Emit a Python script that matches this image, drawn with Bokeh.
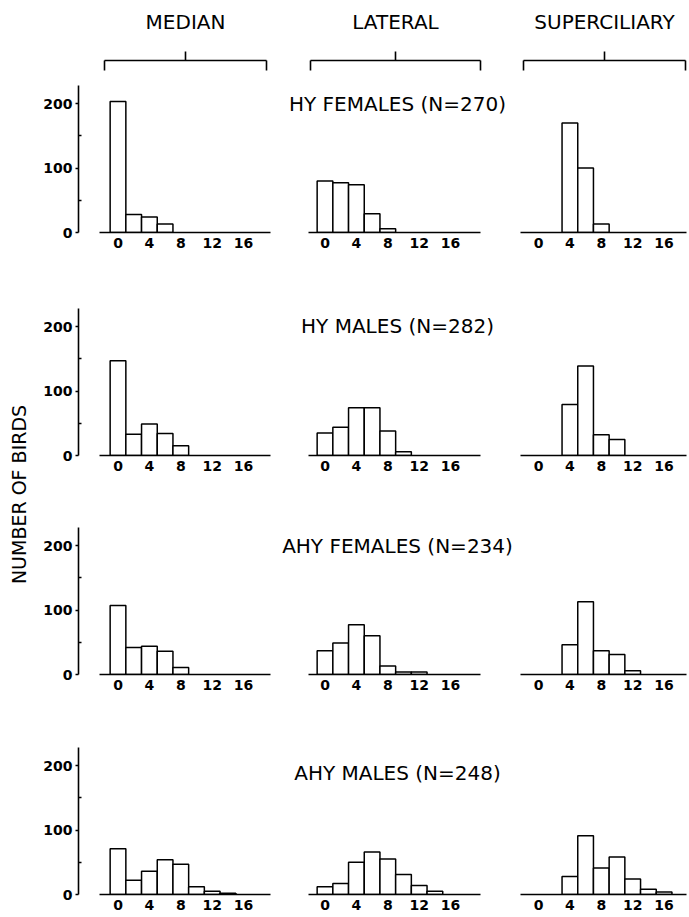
import math
from bokeh.plotting import figure
from bokeh.layouts import row, column
from bokeh.models import Range1d, Label, FixedTicker
from bokeh.core.properties import value
from bokeh.embed import file_html
from bokeh.resources import INLINE

# ---------------- data ----------------
bins = [0, 2, 4, 6, 8, 10, 12, 14, 16, 18]
x_ticks = [0, 4, 8, 12, 16]
y_ticks = [0, 100, 200]
y_minor_ticks = [50, 150]
column_names = ["MEDIAN", "LATERAL", "SUPERCILIARY"]
group_names = ["HY FEMALES (N=270)", "HY MALES (N=282)",
               "AHY FEMALES (N=234)", "AHY MALES (N=248)"]
y_title = "NUMBER OF BIRDS"

hy_f_median = [203, 28, 24, 13, 0, 0, 0, 0, 0, 0]
hy_f_lateral = [80, 77, 74, 29, 6, 0, 0, 0, 0, 0]
hy_f_super = [0, 0, 170, 100, 13, 0, 0, 0, 0, 0]

hy_m_median = [147, 33, 49, 34, 15, 0, 0, 0, 0, 0]
hy_m_lateral = [35, 44, 74, 74, 38, 6, 0, 0, 0, 0]
hy_m_super = [0, 0, 79, 139, 32, 25, 0, 0, 0, 0]

ahy_f_median = [107, 42, 44, 36, 11, 0, 0, 0, 0, 0]
ahy_f_lateral = [37, 49, 77, 60, 13, 4, 4, 0, 0, 0]
ahy_f_super = [0, 0, 46, 113, 37, 31, 6, 0, 0, 0]

ahy_m_median = [71, 22, 36, 54, 47, 12, 5, 2, 0, 0]
ahy_m_lateral = [12, 17, 50, 66, 55, 31, 14, 5, 0, 0]
ahy_m_super = [0, 0, 28, 91, 41, 58, 24, 8, 4, 0]

series = [
    [hy_f_median, hy_f_lateral, hy_f_super],
    [hy_m_median, hy_m_lateral, hy_m_super],
    [ahy_f_median, ahy_f_lateral, ahy_f_super],
    [ahy_m_median, ahy_m_lateral, ahy_m_super],
]

# ---------------- layout (page pixels) ----------------
PX = 7.85          # pixels per x unit
Y_TOP = 228        # y range top
FRAME_H = 147      # frame height in px
FONT = "DejaVu Sans"
# left/width of figure, frame left/right, x of value 0, baseline start/end
cols = [
    dict(left=34, width=238, fl=78, fr=272, zero=117.5, b0=99, b1=270),
    dict(left=272, width=245, fl=272, fr=517, zero=324.5, b0=308, b1=480),
    dict(left=517, width=171, fl=517, fr=688, zero=538, b0=520, b1=686),
]
# figure top, baseline, figure bottom
rows_geo = [(75, 232, 254), (254, 455, 477), (477, 674, 696), (696, 894, 916)]
title_y = [103, 325, 545, 772]
TITLE_X = 397
brackets = [(104, 266), (310, 480), (523, 685)]


def panel(ci, ri, vals):
    c = cols[ci]
    top, base, bottom = rows_geo[ri]
    x0 = (c["fl"] - c["zero"]) / PX
    x1 = (c["fr"] - c["zero"]) / PX
    p = figure(width=c["width"], height=bottom - top,
               x_range=Range1d(x0, x1), y_range=Range1d(0, Y_TOP),
               output_backend="svg", toolbar_location=None, title=None,
               y_axis_location="left" if ci == 0 else None,
               min_border_left=c["fl"] - c["left"],
               min_border_right=c["left"] + c["width"] - c["fr"],
               min_border_top=base - FRAME_H - top,
               min_border_bottom=bottom - base)
    p.outline_line_color = None
    p.grid.visible = False
    p.background_fill_color = "white"
    p.border_fill_color = "white"

    xa = p.xaxis[0]
    xa.ticker = FixedTicker(ticks=x_ticks, minor_ticks=[])
    xa.bounds = ((c["b0"] - c["zero"]) / PX, (c["b1"] - c["zero"]) / PX)
    xa.major_tick_out = 0
    xa.major_tick_in = 0
    xa.minor_tick_out = 0
    xa.minor_tick_in = 0
    xa.axis_line_width = 1.6
    xa.axis_line_color = "black"
    xa.major_label_standoff = 5
    xa.major_label_text_font = FONT
    xa.major_label_text_font_size = "14px"
    xa.major_label_text_font_style = "bold"
    xa.major_label_text_color = "black"

    if ci == 0:
        ya = p.yaxis[0]
        ya.ticker = FixedTicker(ticks=y_ticks, minor_ticks=y_minor_ticks)
        ya.bounds = (0, Y_TOP)
        ya.major_tick_out = 3
        ya.major_tick_in = 0
        ya.minor_tick_out = 0
        ya.minor_tick_in = 3
        ya.major_tick_line_width = 1.5
        ya.minor_tick_line_width = 1.5
        ya.axis_line_width = 1.6
        ya.axis_line_color = "black"
        ya.major_label_standoff = 3
        ya.major_label_text_font = FONT
        ya.major_label_text_font_size = "14px"
        ya.major_label_text_font_style = "bold"
        ya.major_label_text_color = "black"

    xs = [b for b, v in zip(bins, vals) if v > 0]
    tops = [v for v in vals if v > 0]
    p.vbar(x=xs, top=tops, bottom=0, width=2, fill_color="white",
           line_color="black", line_width=1.5)

    if ci == 1:
        p.add_layout(Label(x=(TITLE_X - c["zero"]) / PX,
                           y=(base - title_y[ri]) * Y_TOP / FRAME_H,
                           text=group_names[ri], text_align="center",
                           text_baseline="middle", text_font=FONT,
                           text_font_size="20px", text_color="black"))
    return p


# header with column names and brackets
hdr = figure(width=655, height=75, x_range=Range1d(34, 689), y_range=Range1d(75, 0),
             x_axis_type=None, y_axis_type=None, toolbar_location=None,
             output_backend="svg", min_border=0, title=None)
hdr.outline_line_color = None
hdr.grid.visible = False
mids = [(a + b) / 2 for a, b in brackets]
hdr.text(x=mids, y=[21] * 3, text=column_names, text_align="center",
         text_baseline="middle", text_font=value(FONT),
         text_font_size=value("20px"), text_color="black")
bx0, by0, bx1, by1 = [], [], [], []
for (a, b), m in zip(brackets, mids):
    bx0 += [a, a, b, m]
    by0 += [60, 60, 60, 60]
    bx1 += [b, a, b, m]
    by1 += [60, 70, 70, 51]
hdr.segment(x0=bx0, y0=by0, x1=bx1, y1=by1, line_color="black", line_width=1.6)

# left vertical axis title
left = figure(width=34, height=916, x_range=Range1d(0, 34), y_range=Range1d(916, 0),
              x_axis_type=None, y_axis_type=None, toolbar_location=None,
              output_backend="svg", min_border=0, title=None)
left.outline_line_color = None
left.grid.visible = False
left.add_layout(Label(x=18, y=494, text=y_title, angle=math.pi / 2,
                      text_align="center", text_baseline="middle",
                      text_font=FONT, text_font_size="19px", text_color="black"))

rows_list = []
for ri in range(4):
    rows_list.append(row(*[panel(ci, ri, series[ri][ci]) for ci in range(3)]))

page = row(left, column(hdr, *rows_list))

with open("out.html", "w") as f:
    f.write(file_html(page, INLINE))
